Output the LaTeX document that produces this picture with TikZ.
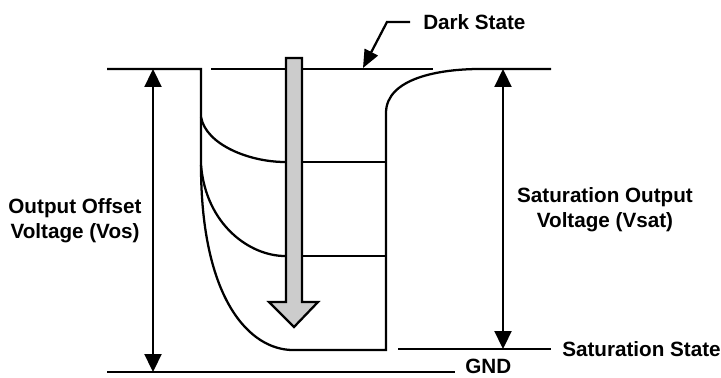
\documentclass[tikz,border=0pt]{standalone}
\usepackage{fontspec}
\setmainfont{Liberation Sans}
\usepackage{tikz}
\usetikzlibrary{arrows.meta,positioning}
\definecolor{greyx}{HTML}{CCCCCC}
\tikzset{
  wire/.style={line width=1.7pt,black},
  dim/.style={{Triangle[length=13.5pt,width=12.75pt]}-{Triangle[length=13.5pt,width=12.75pt]},line width=1.7pt},
  lead/.style={-{Triangle[length=13.5pt,width=11pt]},line width=1.7pt},
  lbl/.style={font=\fontsize{15.5}{18.6}\selectfont\bfseries,align=center,inner sep=0pt}
}
\begin{document}
\begin{tikzpicture}[x=0.75pt,y=-0.75pt]
\useasboundingbox (0,0) rectangle (721,378);
% level lines
\draw[wire] (107,69) -- (201,69) -- (201,165)
  .. controls (201,300) and (250,350) .. (293,350) -- (386,350) -- (386,113)
  .. controls (386,78) and (440,69) .. (480,69) -- (551,69);
\draw[wire] (211,69) -- (433,69);
\draw[wire] (201,117) .. controls (206,145) and (250,162) .. (285,162);
\draw[wire] (201,165) .. controls (206,225) and (250,256) .. (285,256);
\draw[wire] (302,162) -- (386,162);
\draw[wire] (302,256) -- (386,256);
\draw[wire] (398,349) -- (551,349);
\draw[wire] (107,372) -- (455,372);
% grey arrow
\draw[line width=1.7pt,fill=greyx,line join=miter]
  (286,58) -- (302,58) -- (302,302) -- (318,302) -- (294,327)
  -- (269,302) -- (286,302) -- cycle;
% labels
\node[lbl] (vos) at (75,221) {Output Offset\\Voltage (Vos)};
\node[lbl] (vsat) at (605,210) {Saturation Output\\Voltage (Vsat)};
\node[lbl,anchor=west] (dark) at (423,22) {Dark State};
\node[lbl,anchor=west] (sat) at (562,349) {Saturation State};
\node[lbl,anchor=west] (gnd) at (465,366) {GND};
% dimension arrows
\coordinate (vostop) at (153,69);
\coordinate (vosbot) at (153,372);
\coordinate (vsattop) at (503,69);
\coordinate (vsatbot) at (503,349);
\coordinate (darktip) at (363,68);
\draw[dim] (vostop) -- (vosbot);
\draw[dim] (vsattop) -- (vsatbot);
\draw[lead] ([xshift=-9.75pt]dark.west) -- ++(-23,0) -- (darktip);
\end{tikzpicture}
\end{document}
